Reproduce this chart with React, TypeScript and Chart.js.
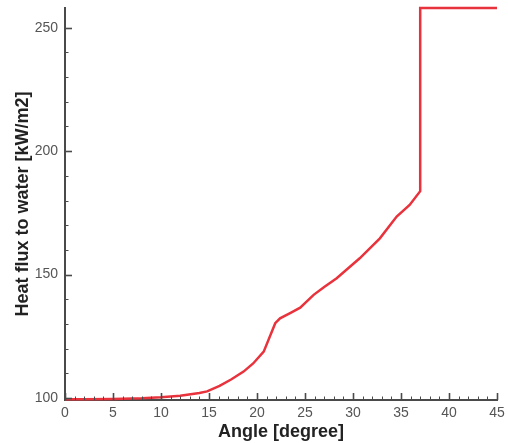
import React, { useEffect, useRef } from "react";
import { Chart, registerables } from "chart.js";

Chart.register(...registerables);

const angles = [0, 2, 5, 8, 10, 12, 14, 14.8, 16.1, 17.3, 18.6, 19.6, 20.7, 21.9, 22.4, 23.5, 24.5, 25.9, 27, 28.3, 30.7, 32.8, 34.55, 35.9, 37, 37, 45];
const heatFlux = [99.5, 99.5, 99.6, 99.9, 100.3, 100.9, 102, 102.7, 104.9, 107.5, 110.7, 114, 118.8, 130.3, 132.3, 134.5, 136.6, 141.8, 145, 148.5, 156.6, 164.7, 173.5, 178.2, 183.8, 258, 258];
const xTickLabels = [0, 5, 10, 15, 20, 25, 30, 35, 40, 45];
const yTickLabels = [100, 150, 200, 250];

const FONT = 'Arial, "Liberation Sans", sans-serif';
const AXIS_COLOR = "#4a4a4a";

const insideTicks = {
  id: "insideTicks",
  afterDraw(chart: any) {
    const { ctx, chartArea, scales } = chart;
    const xs = scales.x;
    const ys = scales.y;
    ctx.save();
    ctx.strokeStyle = AXIS_COLOR;
    for (let v = 0; v <= 45; v += 1) {
      const major = v % 5 === 0;
      const px = Math.round(xs.getPixelForValue(v)) + 0.5;
      ctx.lineWidth = major ? 1.6 : 1;
      ctx.beginPath();
      ctx.moveTo(px, chartArea.bottom);
      ctx.lineTo(px, chartArea.bottom - (major ? 7 : 3.5));
      ctx.stroke();
    }
    for (let v = 100; v <= 255; v += 10) {
      const major = v % 50 === 0;
      const py = Math.round(ys.getPixelForValue(v)) + 0.5;
      ctx.lineWidth = major ? 1.6 : 1;
      ctx.beginPath();
      ctx.moveTo(chartArea.left, py);
      ctx.lineTo(chartArea.left + (major ? 7 : 3.5), py);
      ctx.stroke();
    }
    ctx.restore();
  },
};

export default function App() {
  const ref = useRef<HTMLCanvasElement | null>(null);

  useEffect(() => {
    if (!ref.current) return;
    const points = angles.map((a, i) => ({ x: a, y: heatFlux[i] }));
    const chart = new Chart(ref.current, {
      type: "line",
      data: {
        datasets: [
          {
            data: points,
            borderColor: "#e8323c",
            borderWidth: 2.5,
            pointRadius: 0,
            tension: 0,
            fill: false,
            clip: 4,
          } as any,
        ],
      },
      options: {
        animation: false,
        responsive: false,
        maintainAspectRatio: false,
        layout: { padding: { top: 8, right: 11, left: 0, bottom: 0 } },
        plugins: { legend: { display: false }, tooltip: { enabled: false } },
        scales: {
          x: {
            type: "linear",
            min: 0,
            max: 45,
            grid: { display: false, drawTicks: false },
            border: { display: true, color: AXIS_COLOR, width: 2 },
            afterBuildTicks: (s: any) => {
              s.ticks = xTickLabels.map((v) => ({ value: v }));
            },
            afterFit: (s: any) => {
              s.height = 43;
              s.paddingLeft = 0;
              s.paddingRight = 0;
            },
            ticks: {
              padding: 5,
              color: "#555",
              font: { family: FONT, size: 14 },
              maxRotation: 0,
            },
            title: {
              display: true,
              text: "Angle [degree]",
              color: "#222",
              font: { family: FONT, size: 18, weight: "bold" },
              padding: { top: 0, bottom: 0 },
            },
          },
          y: {
            type: "linear",
            min: 99.2,
            max: 258,
            grid: { display: false, drawTicks: false },
            border: { display: true, color: AXIS_COLOR, width: 2 },
            afterBuildTicks: (s: any) => {
              s.ticks = yTickLabels.map((v) => ({ value: v }));
            },
            afterFit: (s: any) => {
              s.width = 65;
              s.paddingTop = 0;
              s.paddingBottom = 0;
            },
            ticks: {
              padding: 7,
              color: "#555",
              font: { family: FONT, size: 14 },
            },
            title: {
              display: true,
              text: "Heat flux to water [kW/m2]",
              color: "#222",
              font: { family: FONT, size: 18, weight: "bold" },
              padding: { top: 12, bottom: 0 },
            },
          },
        },
      },
      plugins: [insideTicks],
    });
    return () => chart.destroy();
  }, []);

  return (
    <div style={{ position: "fixed", left: 0, top: 0, width: 508, height: 443, background: "#fff" }}>
      <canvas ref={ref} width={508} height={443} style={{ width: 508, height: 443, display: "block" }} />
    </div>
  );
}
